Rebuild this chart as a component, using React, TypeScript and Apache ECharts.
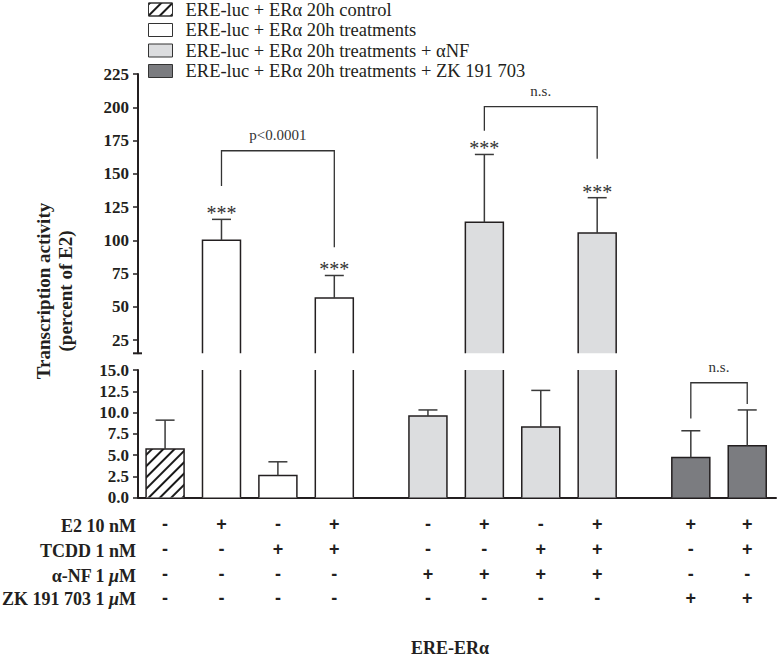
import React, { useEffect, useRef } from "react";
import * as echarts from "echarts";

// ---------- data ----------
const seriesNames = [
  "ERE-luc + ERα 20h control",
  "ERE-luc + ERα 20h treatments",
  "ERE-luc + ERα 20h treatments + αNF",
  "ERE-luc + ERα 20h treatments + ZK 191 703",
];
const seriesColors = ["#ffffff", "#ffffff", "#dcdddf", "#7b7c80"];

// one entry per bar (left to right)
const barSeries = [0, 1, 1, 1, 2, 2, 2, 2, 3, 3];
const barBlock = [0, 0, 0, 0, 1, 1, 1, 1, 2, 2];
const means = [5.7, 100, 2.6, 56.5, 9.6, 113.5, 8.3, 105.5, 4.7, 6.1];
const errors = [3.4, 15.7, 1.6, 17, 0.7, 51, 4.3, 26.5, 3.15, 4.2];
const stars = [0, 1, 0, 1, 0, 1, 0, 1, 0, 0];

const e2Row = ["-", "+", "-", "+", "-", "+", "-", "+", "+", "+"];
const tcddRow = ["-", "-", "+", "+", "-", "-", "+", "+", "-", "+"];
const anfRow = ["-", "-", "-", "-", "+", "+", "+", "+", "-", "-"];
const zkRow = ["-", "-", "-", "-", "-", "-", "-", "-", "+", "+"];

const bracketFrom = [1, 5, 8];
const bracketTo = [3, 7, 9];
const bracketLevel = [167.3, 200.4, 13.5];
const bracketLeftEnd = [140.8, 182.4, 9.3];
const bracketRightEnd = [94.7, 161.3, 11.0];
const bracketLabel = ["p<0.0001", "n.s.", "n.s."];
const bracketPanel = [0, 0, 1];

const upperTicks = [25, 50, 75, 100, 125, 150, 175, 200, 225];
const UPPER_MIN = 15;
const UPPER_MAX = 225;
const LOWER_MIN = 0;
const LOWER_MAX = 15;
const LOWER_STEP = 2.5;

// ---------- layout ----------
const BLOCK_GAP = 0.66;
const xPos = barBlock.map((b, i) => i + 1 + b * BLOCK_GAP);
const X_MIN = 0.52;
const X_MAX = 11.83;
const SERIF = '"Liberation Serif", "Times New Roman", serif';
const SANS = '"Liberation Sans", Arial, sans-serif';
const INK = "#231f20";
const BAR_W = 38;
const GRID_LEFT = 138;
const UPPER_TOP = 74;
const UPPER_H = 279.3;

const hatch = {
  symbol: "rect",
  symbolSize: 1,
  dashArrayX: [[1, 0]],
  dashArrayY: [2, 6],
  rotation: -Math.PI / 4,
  color: "#1a1a1a",
  backgroundColor: "#ffffff",
};

function outlineRender(isUpper: boolean, axisMax: number) {
  return (params: any, api: any) => {
    const x = api.value(0);
    const m = api.value(1);
    const e = api.value(2);
    const st = api.value(3);
    if (isUpper && m <= UPPER_MIN) return { type: "group", children: [] };
    const cs = params.coordSys;
    const yBottom = cs.y + cs.height;
    const p = api.coord([x, m]);
    const cx = p[0];
    const clipped = m > axisMax;
    const yTop = clipped ? cs.y : p[1];
    const hw = BAR_W / 2;
    const ls = { stroke: INK, lineWidth: 1.5, fill: null };
    const children: any[] = [];
    if (clipped) {
      children.push({ type: "line", shape: { x1: cx - hw, y1: yBottom, x2: cx - hw, y2: yTop }, style: ls });
      children.push({ type: "line", shape: { x1: cx + hw, y1: yBottom, x2: cx + hw, y2: yTop }, style: ls });
    } else {
      children.push({
        type: "polyline",
        shape: { points: [[cx - hw, yBottom], [cx - hw, yTop], [cx + hw, yTop], [cx + hw, yBottom]] },
        style: ls,
      });
      const pe = api.coord([x, m + e]);
      const ye = pe[1];
      const els = { stroke: "#3a3a3a", lineWidth: 1.5 };
      children.push({ type: "line", shape: { x1: cx, y1: yTop, x2: cx, y2: ye }, style: els });
      children.push({ type: "line", shape: { x1: cx - 9.5, y1: ye, x2: cx + 9.5, y2: ye }, style: els });
      if (st) {
        children.push({
          type: "text",
          x: cx,
          y: ye + 4,
          style: {
            text: "***",
            textAlign: "center",
            textVerticalAlign: "bottom",
            font: `20px ${SERIF}`,
            fill: "#333",
          },
        });
      }
    }
    return { type: "group", children };
  };
}

const bracketIdx = [0, 1].map((panel) =>
  bracketPanel.map((p, i) => (p === panel ? i : -1)).filter((i) => i >= 0)
);

function bracketRender(params: any, api: any) {
  const i = params.dataIndex;
  const x1 = api.coord([api.value(0), api.value(2)]);
  const x2 = api.coord([api.value(1), api.value(2)]);
  const yl = api.coord([api.value(0), api.value(3)])[1];
  const yr = api.coord([api.value(1), api.value(4)])[1];
  const ls = { stroke: "#333", lineWidth: 1.3, fill: null };
  return {
    type: "group",
    children: [
      {
        type: "polyline",
        shape: { points: [[x1[0], yl], [x1[0], x1[1]], [x2[0], x1[1]], [x2[0], yr]] },
        style: ls,
      },
      {
        type: "text",
        x: (x1[0] + x2[0]) / 2,
        y: x1[1] - 8,
        style: {
          text: bracketLabel[bracketIdx[params.seriesName === "brUpper" ? 0 : 1][i]],
          textAlign: "center",
          textVerticalAlign: "bottom",
          font: `15px ${SERIF}`,
          fill: "#333",
        },
      },
    ],
  };
}

const tableRows = [e2Row, tcddRow, anfRow, zkRow];
const rowOffsets = [28, 53, 78, 101.5];

function tableRender(params: any, api: any) {
  const i = params.dataIndex;
  const cx = api.coord([api.value(0), 0])[0];
  const base = params.coordSys.y + params.coordSys.height;
  return {
    type: "group",
    children: tableRows.map((row, r) => ({
      type: "text",
      x: cx,
      y: base + rowOffsets[r] - 1.5,
      style: {
        text: row[i],
        textAlign: "center",
        textVerticalAlign: "middle",
        font: `bold 18px ${SANS}`,
        fill: INK,
      },
    })),
  };
}

export default function App() {
  const ref = useRef<HTMLDivElement>(null);
  useEffect(() => {
    if (!ref.current) return;
    const chart = echarts.init(ref.current, null, { renderer: "svg" });

    const barSeriesList: any[] = [];
    [0, 1].forEach((grid) => {
      seriesNames.forEach((name, s) => {
        const data = means
          .map((m, i) => ({ m, i }))
          .filter((d) => barSeries[d.i] === s && (grid === 1 || d.m > UPPER_MIN))
          .map((d) => [xPos[d.i], d.m]);
        barSeriesList.push({
          type: "bar",
          name,
          xAxisIndex: grid,
          yAxisIndex: grid,
          data,
          barWidth: BAR_W,
          barGap: "-100%",
          clip: true,
          itemStyle: {
            color: seriesColors[s],
            borderWidth: 0,
            ...(s === 0 ? { decal: hatch } : {}),
          },
          silent: true,
        });
      });
    });

    const barData = means.map((m, i) => [xPos[i], m, errors[i], stars[i]]);

    const bracketData = (panel: number) =>
      bracketIdx[panel].map((k) => [
        xPos[bracketFrom[k]],
        xPos[bracketTo[k]],
        bracketLevel[k],
        bracketLeftEnd[k],
        bracketRightEnd[k],
      ]);

    const yLabelStyle = {
      fontFamily: SERIF,
      fontWeight: "bold",
      fontSize: 17,
      color: INK,
      margin: 9,
    };

    const rowLabels = [
      "{b|E2 10 nM}",
      "{b|TCDD 1 nM}",
      "{b|α-NF 1 }{i|μ}{b|M}",
      "{b|ZK 191 703 1 }{i|μ}{b|M}",
    ];

    chart.setOption({
      animation: false,
      backgroundColor: "#ffffff",
      legend: {
        orient: "vertical",
        left: 148,
        top: 0,
        padding: 0,
        itemWidth: 24,
        itemHeight: 13,
        itemGap: 1.5,
        selectedMode: false,
        icon: "rect",
        textStyle: {
          fontFamily: SERIF,
          fontSize: 18.5,
          color: INK,
          padding: [0, 0, 0, 8],
          lineHeight: 18,
        },
        data: seriesNames.map((n) => ({
          name: n,
          itemStyle: { borderColor: "#333", borderWidth: 1 },
        })),
      },
      grid: [
        { left: GRID_LEFT, right: 1, top: UPPER_TOP, height: UPPER_H },
        { left: GRID_LEFT, right: 1, top: 370, height: 127.5 },
      ],
      xAxis: [
        { type: "value", gridIndex: 0, min: X_MIN, max: X_MAX, show: false },
        {
          type: "value",
          gridIndex: 1,
          min: X_MIN,
          max: X_MAX,
          axisLine: { show: true, onZero: false, lineStyle: { color: INK, width: 2 } },
          axisTick: { show: false },
          axisLabel: { show: false },
          splitLine: { show: false },
        },
      ],
      yAxis: [
        {
          type: "value",
          gridIndex: 0,
          min: UPPER_MIN,
          max: UPPER_MAX,
          axisLine: { show: true, lineStyle: { color: INK, width: 2 } },
          axisTick: {
            show: true,
            length: 5,
            lineStyle: { color: INK, width: 1.5 },
            customValues: upperTicks,
          },
          axisLabel: { ...yLabelStyle, customValues: upperTicks },
          splitLine: { show: false },
        },
        {
          type: "value",
          gridIndex: 1,
          min: LOWER_MIN,
          max: LOWER_MAX,
          interval: LOWER_STEP,
          axisLine: { show: true, lineStyle: { color: INK, width: 2 } },
          axisTick: { show: true, length: 5, lineStyle: { color: INK, width: 1.5 } },
          axisLabel: { ...yLabelStyle, formatter: (v: number) => v.toFixed(1) },
          splitLine: { show: false },
        },
      ],
      series: [
        ...barSeriesList,
        {
          type: "custom",
          name: "outlineUpper",
          xAxisIndex: 0,
          yAxisIndex: 0,
          data: barData,
          encode: { x: 0, y: 1 },
          renderItem: outlineRender(true, UPPER_MAX),
          silent: true,
          z: 5,
        },
        {
          type: "custom",
          name: "outlineLower",
          xAxisIndex: 1,
          yAxisIndex: 1,
          data: barData,
          encode: { x: 0, y: 1 },
          renderItem: outlineRender(false, LOWER_MAX),
          silent: true,
          z: 5,
        },
        {
          type: "custom",
          name: "brUpper",
          xAxisIndex: 0,
          yAxisIndex: 0,
          data: bracketData(0),
          encode: { x: [0, 1], y: 2 },
          renderItem: bracketRender,
          silent: true,
          z: 5,
        },
        {
          type: "custom",
          name: "brLower",
          xAxisIndex: 1,
          yAxisIndex: 1,
          data: bracketData(1),
          encode: { x: [0, 1], y: 2 },
          renderItem: bracketRender,
          silent: true,
          z: 5,
        },
        {
          type: "custom",
          name: "table",
          xAxisIndex: 1,
          yAxisIndex: 1,
          data: xPos.map((x) => [x, 0]),
          encode: { x: 0, y: 1 },
          renderItem: tableRender,
          silent: true,
          z: 5,
        },
      ],
      graphic: [
        {
          type: "line",
          shape: {
            x1: GRID_LEFT - 5,
            y1: UPPER_TOP + UPPER_H,
            x2: GRID_LEFT + 4,
            y2: UPPER_TOP + UPPER_H,
          },
          style: { stroke: INK, lineWidth: 2 },
        },
        {
          type: "text",
          x: 54,
          y: 291,
          rotation: Math.PI / 2,
          style: {
            text: "Transcription activity\n(percent of E2)",
            textAlign: "center",
            textVerticalAlign: "middle",
            font: `bold 19px ${SERIF}`,
            lineHeight: 22,
            fill: INK,
          },
        },
        ...rowLabels.map((t, r) => ({
          type: "text",
          x: 136,
          y: 497.5 + rowOffsets[r],
          style: {
            text: t,
            textAlign: "right",
            textVerticalAlign: "middle",
            rich: {
              b: { fontWeight: "bold", fontSize: 18, fontFamily: SERIF, fill: INK },
              i: { fontStyle: "italic", fontWeight: "bold", fontSize: 18, fontFamily: SERIF, fill: INK },
            },
          },
        })),
        {
          type: "text",
          x: 450,
          y: 648,
          style: {
            text: "ERE-ERα",
            textAlign: "center",
            textVerticalAlign: "middle",
            font: `bold 18px ${SERIF}`,
            fill: INK,
          },
        },
      ],
    });
    return () => chart.dispose();
  }, []);
  return (
    <div
      ref={ref}
      style={{ position: "fixed", left: 0, top: 0, width: 777, height: 661, background: "#fff" }}
    />
  );
}
